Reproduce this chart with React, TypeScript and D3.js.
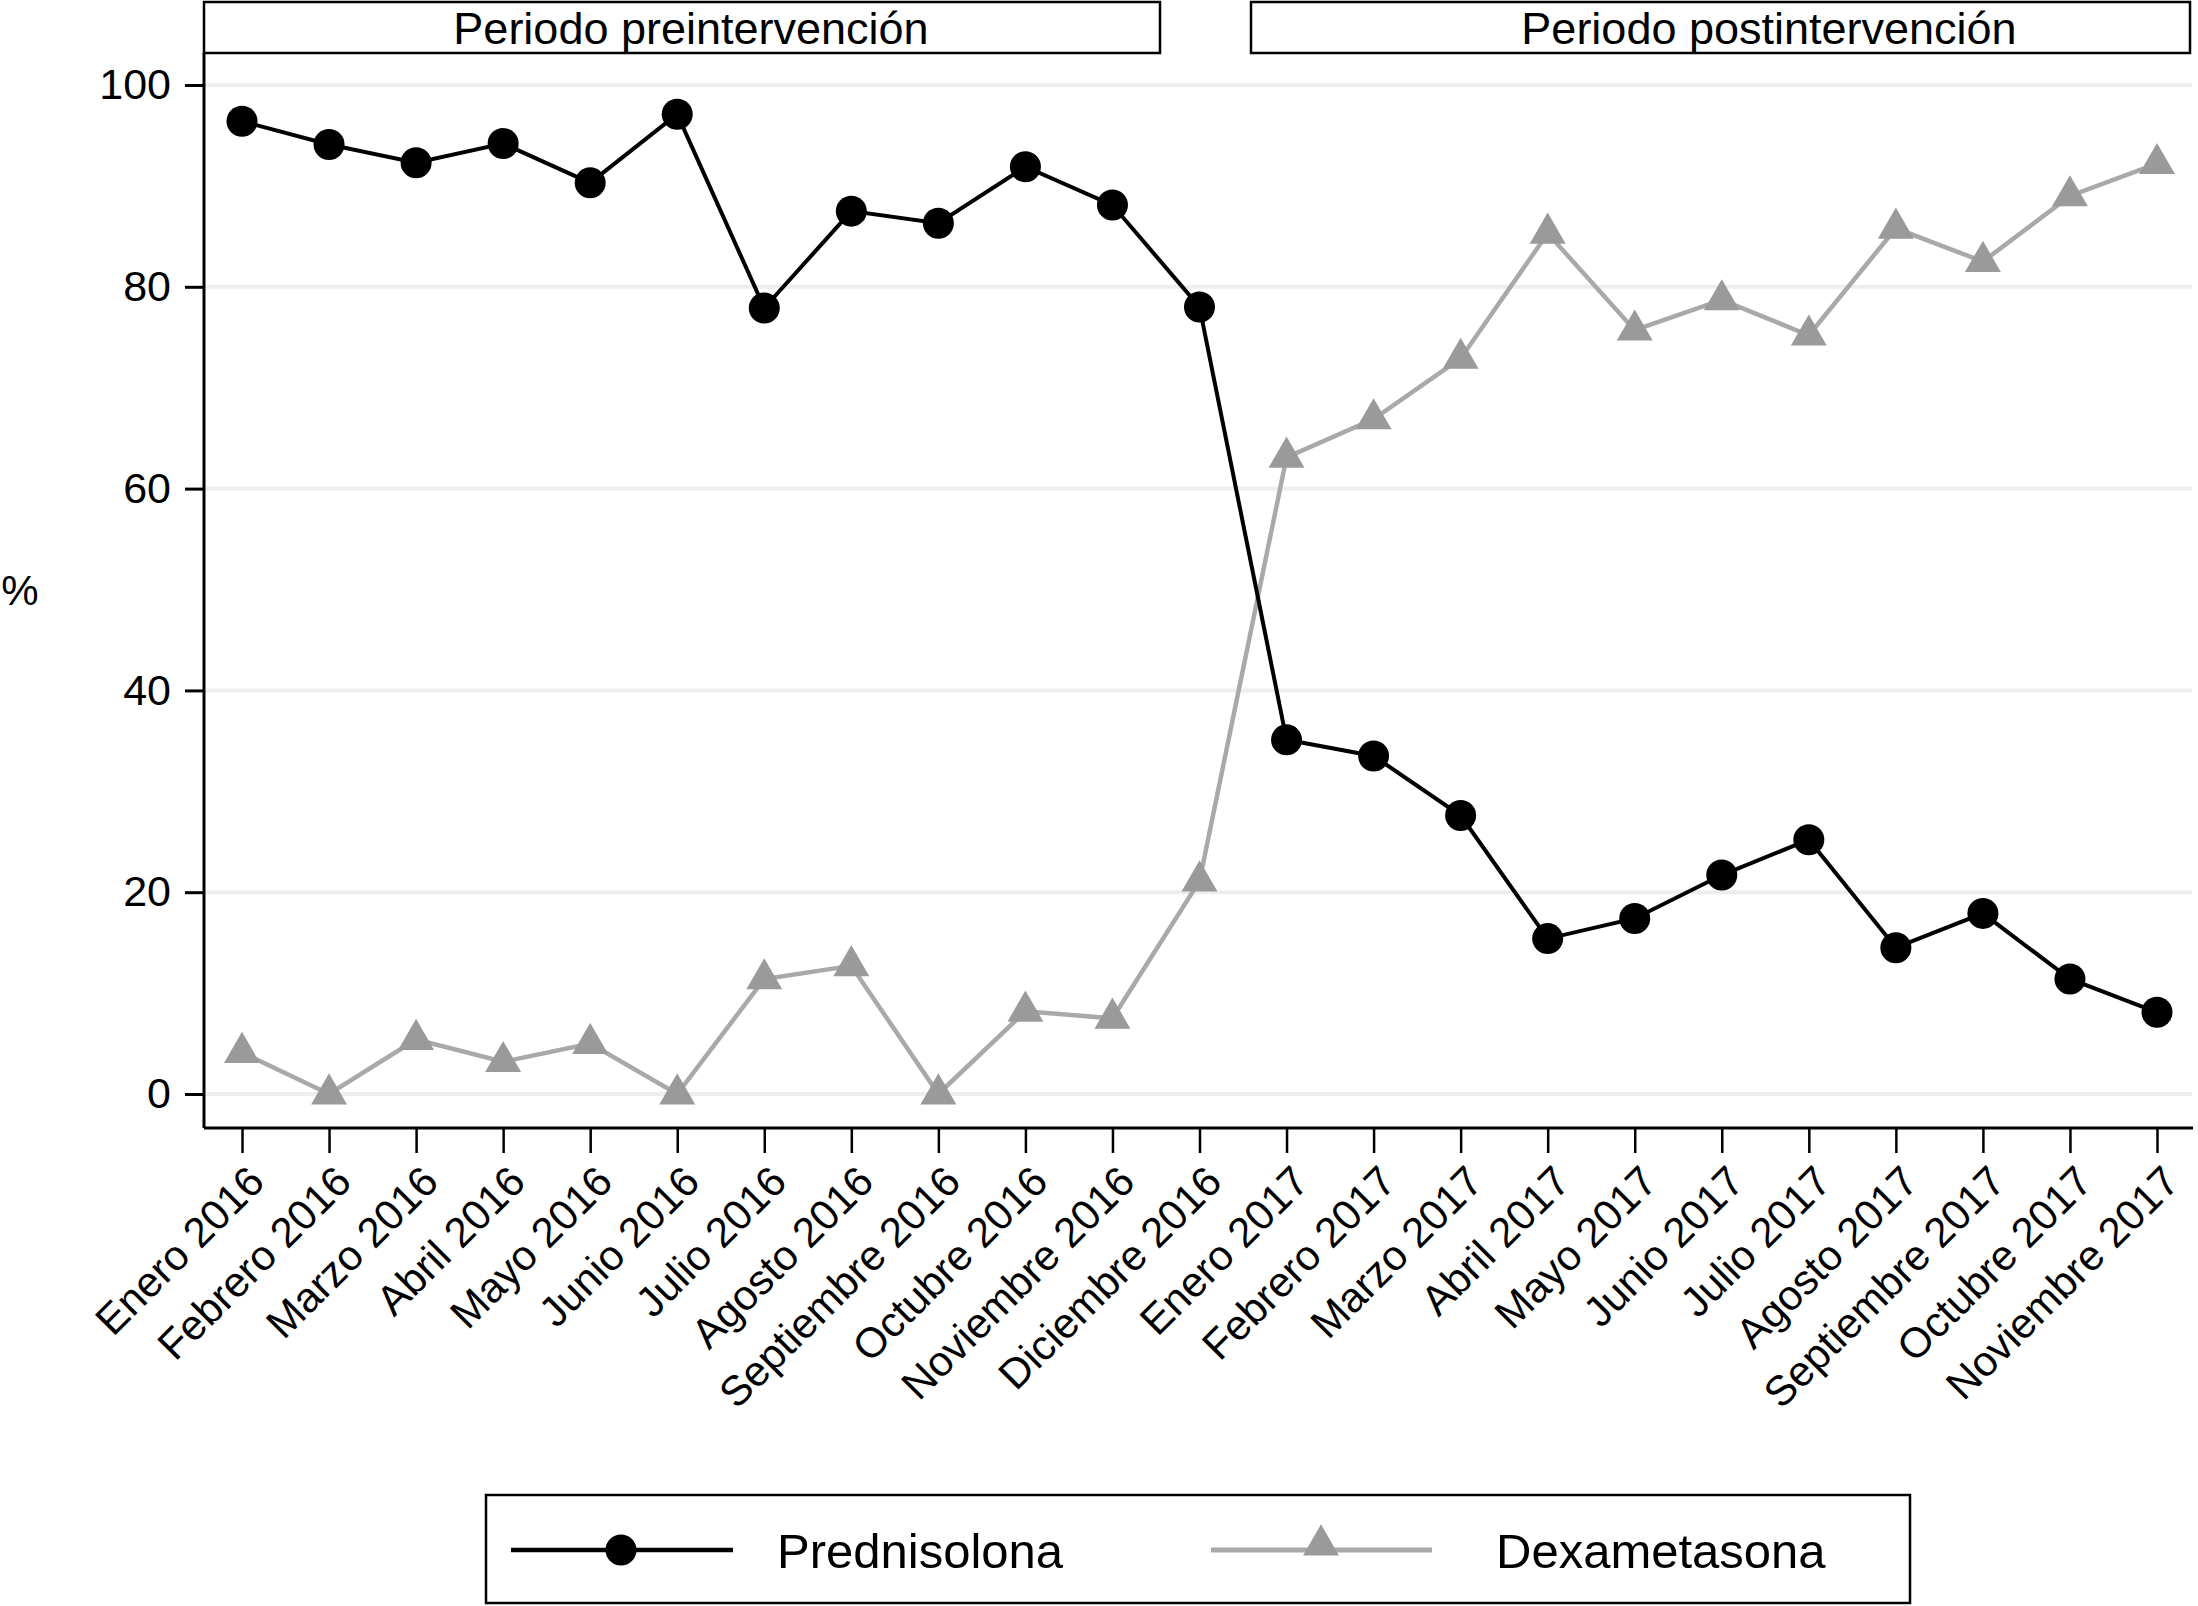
import React, { useEffect, useRef } from 'react';
import * as d3 from 'd3';

const months = [
  'Enero 2016', 'Febrero 2016', 'Marzo 2016', 'Abril 2016', 'Mayo 2016', 'Junio 2016',
  'Julio 2016', 'Agosto 2016', 'Septiembre 2016', 'Octubre 2016', 'Noviembre 2016', 'Diciembre 2016',
  'Enero 2017', 'Febrero 2017', 'Marzo 2017', 'Abril 2017', 'Mayo 2017', 'Junio 2017',
  'Julio 2017', 'Agosto 2017', 'Septiembre 2017', 'Octubre 2017', 'Noviembre 2017',
];

const prednisolona = [
  96.4, 94.1, 92.3, 94.2, 90.3, 97.1, 77.9, 87.5, 86.3, 91.9, 88.1, 78.0,
  35.1, 33.5, 27.6, 15.4, 17.4, 21.7, 25.2, 14.5, 17.9, 11.4, 8.1,
];

const dexametasona = [
  4.1, 0, 5.4, 3.2, 5.0, 0, 11.4, 12.7, 0, 8.2, 7.5, 21.1,
  63.1, 66.9, 72.9, 85.3, 75.7, 78.7, 75.2, 85.8, 82.5, 89.0, 92.2,
];

const yTicks = [0, 20, 40, 60, 80, 100];

// header boxes with the label centre as it sits in the figure
const periods = [
  { label: 'Periodo preintervención', x0: 204, x1: 1160, cx: 691 },
  { label: 'Periodo postintervención', x0: 1251, x1: 2190, cx: 1769 },
];

const W = 2198;
const H = 1606;
const FONT = 'Liberation Sans, Arial, Helvetica, sans-serif';
const DARK = '#000';
const GREY_LINE = '#a9a9a9';
const GREY_MARK = '#9a9a9a';

const App: React.FC = () => {
  const ref = useRef<SVGSVGElement>(null);

  useEffect(() => {
    document.body.style.margin = '0';
    if (!ref.current) return;

    const svg = d3.select(ref.current);
    svg.selectAll('*').remove();

    const axisLeft = 204;
    const axisBottom = 1128;
    const plotRight = 2193;
    const plotTop = 53;

    const x = d3.scalePoint<string>().domain(months).range([242, 2157]);
    const y = d3.scaleLinear().domain([0, 100]).range([1094, 85]);

    svg.append('rect').attr('width', W).attr('height', H).attr('fill', '#fff');

    // gridlines
    svg.append('g')
      .selectAll('line')
      .data(yTicks)
      .enter().append('line')
      .attr('x1', axisLeft + 2)
      .attr('x2', plotRight - 1)
      .attr('y1', d => y(d))
      .attr('y2', d => y(d))
      .attr('stroke', '#eeeeee')
      .attr('stroke-width', 4);

    // header boxes
    const hdr = svg.append('g');
    periods.forEach(p => {
      hdr.append('rect')
        .attr('x', p.x0)
        .attr('y', 2)
        .attr('width', p.x1 - p.x0)
        .attr('height', plotTop - 2)
        .attr('fill', '#fff')
        .attr('stroke', DARK)
        .attr('stroke-width', 2.5);
      hdr.append('text')
        .attr('x', p.cx)
        .attr('y', 44)
        .attr('text-anchor', 'middle')
        .style('font-family', FONT)
        .style('font-size', '45px')
        .text(p.label);
    });

    // axes
    const yAxis = svg.append('g')
      .attr('transform', `translate(${axisLeft},0)`)
      .call(d3.axisLeft(y).tickValues(yTicks).tickSize(19).tickPadding(14).tickFormat(d3.format('d')));
    yAxis.select('.domain').remove();
    yAxis.append('line')
      .attr('x1', 0).attr('x2', 0)
      .attr('y1', plotTop).attr('y2', axisBottom)
      .attr('stroke', DARK).attr('stroke-width', 3);
    yAxis.selectAll('.tick line').attr('stroke', DARK).attr('stroke-width', 3);
    yAxis.selectAll('.tick text')
      .attr('fill', DARK)
      .style('font-family', FONT)
      .style('font-size', '43px');

    const xAxis = svg.append('g')
      .attr('transform', `translate(0,${axisBottom})`)
      .call(d3.axisBottom(x).tickSize(25).tickPadding(0));
    xAxis.select('.domain').remove();
    xAxis.append('line')
      .attr('x1', axisLeft).attr('x2', plotRight)
      .attr('y1', 0).attr('y2', 0)
      .attr('stroke', DARK).attr('stroke-width', 3);
    xAxis.selectAll('.tick line').attr('stroke', DARK).attr('stroke-width', 2.5);
    xAxis.selectAll<SVGTextElement, string>('.tick text')
      .attr('fill', DARK)
      .attr('y', 0)
      .attr('dy', 0)
      .attr('text-anchor', 'end')
      .attr('transform', 'translate(24,56) rotate(-45)')
      .style('font-family', FONT)
      .style('font-size', '42px');

    svg.append('text')
      .attr('x', 20)
      .attr('y', 590)
      .attr('text-anchor', 'middle')
      .attr('dominant-baseline', 'central')
      .style('font-family', FONT)
      .style('font-size', '42px')
      .text('%');

    const line = d3.line<number>()
      .x((_, i) => x(months[i]) as number)
      .y(d => y(d));

    const tri = d3.symbol().type(d3.symbolTriangle).size(560);

    // Dexametasona
    svg.append('path')
      .datum(dexametasona)
      .attr('d', line)
      .attr('fill', 'none')
      .attr('stroke', GREY_LINE)
      .attr('stroke-width', 4.5);
    svg.append('g')
      .selectAll('path')
      .data(dexametasona)
      .enter().append('path')
      .attr('d', tri)
      .attr('transform', (d, i) => `translate(${x(months[i])},${y(d)})`)
      .attr('fill', GREY_MARK);

    // Prednisolona
    svg.append('path')
      .datum(prednisolona)
      .attr('d', line)
      .attr('fill', 'none')
      .attr('stroke', DARK)
      .attr('stroke-width', 4);
    svg.append('g')
      .selectAll('circle')
      .data(prednisolona)
      .enter().append('circle')
      .attr('cx', (_, i) => x(months[i]) as number)
      .attr('cy', d => y(d))
      .attr('r', 15.5)
      .attr('fill', DARK);

    // legend
    const lg = svg.append('g');
    lg.append('rect')
      .attr('x', 486).attr('y', 1495)
      .attr('width', 1910 - 486).attr('height', 1603 - 1495)
      .attr('fill', '#fff')
      .attr('stroke', DARK)
      .attr('stroke-width', 2.5);
    const ly = 1550;
    lg.append('line').attr('x1', 511).attr('x2', 733).attr('y1', ly).attr('y2', ly)
      .attr('stroke', DARK).attr('stroke-width', 4.5);
    lg.append('circle').attr('cx', 621).attr('cy', ly).attr('r', 15.5).attr('fill', DARK);
    lg.append('text').attr('x', 777).attr('y', ly).attr('dy', '0.36em')
      .style('font-family', FONT).style('font-size', '49px').text('Prednisolona');
    lg.append('line').attr('x1', 1211).attr('x2', 1432).attr('y1', ly).attr('y2', ly)
      .attr('stroke', GREY_LINE).attr('stroke-width', 5);
    lg.append('path').attr('d', tri).attr('transform', `translate(1321,${ly - 5})`).attr('fill', GREY_MARK);
    lg.append('text').attr('x', 1496).attr('y', ly).attr('dy', '0.36em')
      .style('font-family', FONT).style('font-size', '49px').text('Dexametasona');
  }, []);

  return <svg ref={ref} width={W} height={H} style={{ display: 'block' }}></svg>;
};

export default App;
